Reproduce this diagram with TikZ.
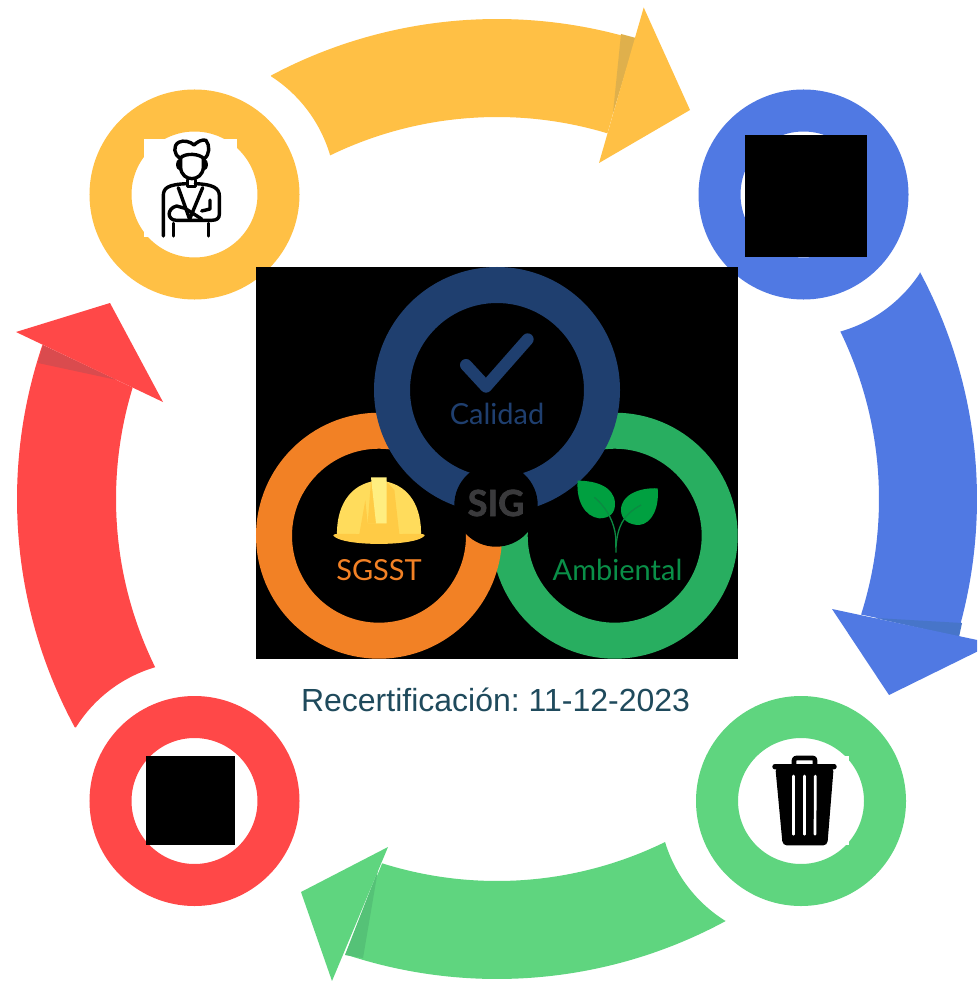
\documentclass[tikz,border=0pt]{standalone}
\usetikzlibrary{calc}
\usepackage{fontspec}
\setmainfont{Liberation Sans}
\newfontfamily\logofont{Lato}
\newfontfamily\sigfont[BoldFeatures={FakeBold=2}]{Lato}
\definecolor{cyellow}{HTML}{FFC045}
\definecolor{cblue}{HTML}{5079E3}
\definecolor{cgreen}{HTML}{5FD57F}
\definecolor{cred}{HTML}{FF4848}
\definecolor{syellow}{HTML}{DFB04C}
\definecolor{sblue}{HTML}{4775C9}
\definecolor{sgreen}{HTML}{55C277}
\definecolor{sred}{HTML}{DA4B4E}
\definecolor{lnavy}{HTML}{1F3F6F}
\definecolor{lorange}{HTML}{F28125}
\definecolor{lgreen}{HTML}{28AE60}
\definecolor{ltext}{HTML}{0A8F48}
\definecolor{leaf}{HTML}{00A040}
\definecolor{leafdark}{HTML}{0C8A42}
\definecolor{sigtext}{HTML}{3A3A3C}
\definecolor{captionc}{HTML}{1F4A5C}
\definecolor{hbase}{HTML}{FFDC5C}
\definecolor{hdark}{HTML}{FFCB45}
\definecolor{hlight}{HTML}{FFEE80}
\tikzset{
  ringshape/.style={line width=42pt,fill=white},
  logoring/.style={line width=36pt,fill=black},
  icon/.style={line width=3.4pt,draw=black,line cap=round,line join=round},
  slit/.style={white,line width=2.7pt,line cap=round},
  logotext/.style={font=\logofont\fontsize{29}{29}\selectfont,anchor=base,inner sep=0pt},
}
\frenchspacing
\begin{document}
\begin{tikzpicture}[x=1pt,y=-1pt]
\useasboundingbox (0,0) rectangle (977,981);
\clip (0,0) rectangle (977,981);
\fill[white] (0,0) rectangle (977,981);
\coordinate (c) at (497,499);
% yellow arrow
\fill[cyellow] ($(c)+(-118.1:480)$) arc[start angle=-118.1,end angle=-73.4,radius=480] -- ($(c)+(-73.2:382)$) arc[start angle=-73.2,end angle=-115.9,radius=382] arc[start angle=-16.3,end angle=-57.2,radius=141] -- cycle;
\fill[syellow] (621,34) -- (636,38) -- (613,113) -- cycle;
\fill[cyellow] (643.7,7.5) -- (690,110) -- (599,163) -- cycle;
% blue arrow
\fill[cblue] ($(c)+(-28.2:480)$) arc[start angle=-28.2,end angle=16.5,radius=480] -- ($(c)+(17.6:382)$) arc[start angle=17.6,end angle=-26,radius=382] arc[start angle=74.2,end angle=33.6,radius=141] -- cycle;
\fill[sblue] (875,618) -- (962,623) -- (959,637) -- cycle;
\fill[cblue] (832,609) -- (993.6,643.5) -- (889,695) -- cycle;
% green arrow
\fill[cgreen] ($(c)+(61.5:480)$) arc[start angle=61.5,end angle=108.4,radius=480] -- ($(c)+(107.5:382)$) arc[start angle=107.5,end angle=63.9,radius=382] arc[start angle=163.2,end angle=122,radius=141] -- cycle;
\fill[sgreen] (378,870) -- (345,955) -- (363,958) -- cycle;
\fill[cgreen] (388,847) -- (301,892) -- (332,981) -- cycle;
% red arrow
\fill[cred] ($(c)+(151.6:480)$) arc[start angle=151.6,end angle=198.7,radius=480] -- ($(c)+(197:381)$) arc[start angle=197,end angle=153.8,radius=381] arc[start angle=253.6,end angle=212,radius=140] -- cycle;
\fill[sred] (43,345) -- (38,363) -- (117,380) -- cycle;
\fill[cred] (16,332) -- (110,303) -- (163,402) -- cycle;
% corner rings
\draw[ringshape,draw=cyellow] (194.5,194.5) circle[radius=84];
\draw[ringshape,draw=cblue] (803.5,194.5) circle[radius=84];
\draw[ringshape,draw=cgreen] (801,801) circle[radius=84];
\draw[ringshape,draw=cred] (194.5,801) circle[radius=84];
% icon tiles
\fill[white] (144,139) rectangle (237,237);
\fill[black] (745,135) rectangle (867,257);
\fill[black] (146,756) rectangle (235,845);
\fill[white] (760,756) rectangle (849,845);
% person icon
\begin{scope}[shift={(130,125)},scale=1/3]
\draw[icon] (150,100) .. controls (132,90) and (128,62) .. (146,52) .. controls (160,44) and (182,50) .. (192,60) .. controls (202,50) and (218,42) .. (228,46) .. controls (240,62) and (240,88) .. (222,102) .. controls (212,86) and (165,82) .. (150,100) -- cycle;
\draw[icon] (152,100) -- (152,128) .. controls (155,172) and (216,172) .. (220,128) -- (220,102);
\draw[icon] (152,105) .. controls (140,108) and (140,130) .. (152,132);
\draw[icon] (220,105) .. controls (232,108) and (232,130) .. (220,132);
\draw[icon] (172,165) -- (172,185) -- (196,185) -- (196,165);
\draw[icon] (100,333) -- (100,212) .. controls (100,190) and (112,178) .. (172,176);
\draw[icon] (196,176) .. controls (250,178) and (268,190) .. (268,212) -- (268,268) .. controls (268,280) and (260,286) .. (245,286) -- (140,286) .. controls (110,286) and (110,250) .. (140,243) -- (165,250);
\draw[icon] (145,188) -- (178,280);
\draw[icon] (218,188) -- (180,280);
\draw[icon] (165,250) -- (215,282);
\draw[icon] (240,225) -- (240,252) -- (215,258);
\draw[icon] (130,295) -- (130,333);
\draw[icon] (235,295) -- (235,333);
\end{scope}
% trash icon
\begin{scope}[shift={(750,740)},scale=1/3]
\draw[black,line width=4.7pt,line join=round] (132,72) -- (132,62) .. controls (132,56) and (134,54) .. (140,54) -- (188,54) .. controls (193,54) and (195,56) .. (195,62) -- (195,72);
\fill[black,rounded corners=2.5pt] (67,72) rectangle (260,88);
\fill[black,rounded corners=4pt] (76,82) -- (251,82) -- (232,316) -- (98,316) -- cycle;
\draw[slit] (131,108) -- (131,283);
\draw[slit] (163,108) -- (163,283);
\draw[slit] (196,108) -- (195,283);
\end{scope}
% SIG logo
\fill[black] (256,267) rectangle (738,659);
\draw[logoring,draw=lgreen] (614.7,535.7) circle[radius=105];
\draw[logoring,draw=lorange] (379,535.7) circle[radius=105];
\draw[logoring,draw=lnavy] (497,390) circle[radius=105];
\fill[black] (496,505) circle[radius=41.7];
\begin{scope}[shift={(256,260)},scale=1/3]
% check
\draw[lnavy,line width=12pt,line cap=round,line join=round] (630,315) -- (690,380) -- (815,238);
% helmet
\fill[hbase] (243,830) .. controls (240,740) and (280,680) .. (345,665) -- (392,665) .. controls (460,680) and (498,740) .. (495,830) -- cycle;
\fill[hdark] (310,822) -- (328,720) -- (335,790) -- (392,790) -- (415,690) -- (430,822) -- cycle;
\fill[hdark] (335,790) -- (345,665) -- (392,665) -- (415,690) -- (400,790) -- cycle;
\fill[hlight] (345,652) -- (392,652) -- (392,790) -- (360,790) -- cycle;
\fill[hdark] (232,827) .. controls (232,820) and (240,822) .. (300,822) -- (440,822) .. controls (500,822) and (506,820) .. (506,827) .. controls (480,860) and (258,860) .. (232,827) -- cycle;
% leaves
\fill[leaf] (965,662) .. controls (1020,662) and (1075,680) .. (1077,730) .. controls (1078,760) and (1060,775) .. (1030,775) .. controls (985,770) and (960,720) .. (965,662) -- cycle;
\fill[leaf] (1205,685) .. controls (1150,682) and (1095,705) .. (1095,750) .. controls (1095,780) and (1120,795) .. (1150,795) .. controls (1190,790) and (1210,740) .. (1205,685) -- cycle;
\draw[leafdark,line width=1.3pt] (1080,878) -- (1079,830) .. controls (1075,790) and (1055,745) .. (1015,712);
\draw[leafdark,line width=1.3pt] (1080,860) .. controls (1085,800) and (1100,765) .. (1155,735);
\end{scope}
\node[logotext,text=lnavy] (calidad) at (497,424) {Calidad};
\node[logotext,text=lorange] (sgsst) at (379,580) {SGSST};
\node[logotext,text=ltext] (ambiental) at (617.5,580) {Ambiental};
\node[font=\sigfont\bfseries\fontsize{36}{36}\selectfont,text=sigtext,inner sep=0pt] (sig) at (496,503) {SIG};
\node[font=\fontsize{32}{32}\selectfont,text=captionc,anchor=base,inner sep=0pt] (caption) at (495.5,711) {Recertificación: 11-12-2023};
\end{tikzpicture}
\end{document}
